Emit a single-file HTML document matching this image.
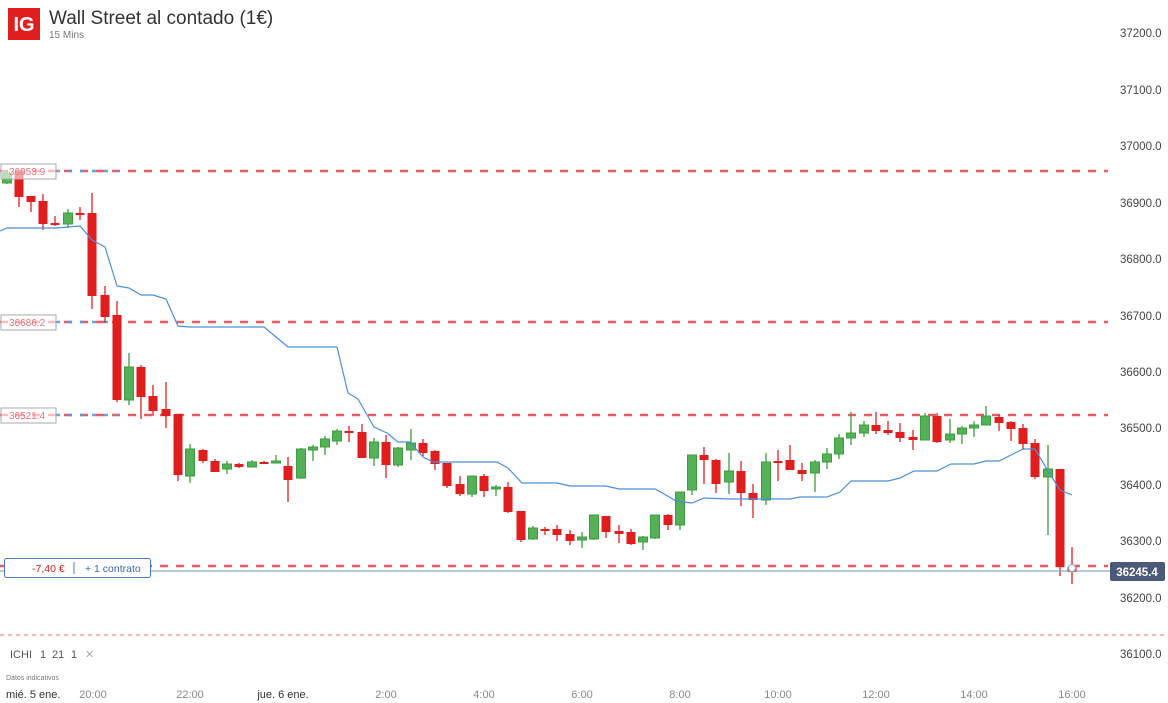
<!DOCTYPE html>
<html><head><meta charset="utf-8"><style>
body{margin:0;background:#fff;width:1168px;height:703px;overflow:hidden;font-family:"Liberation Sans",sans-serif;}
svg{position:absolute;left:0;top:0}
</style></head><body>
<svg id="s" width="1168" height="703" xmlns="http://www.w3.org/2000/svg" font-family="Liberation Sans, sans-serif">
<rect x="8" y="8" width="32" height="32" fill="#e01e1e"/>
<text x="24" y="31" font-size="20" fill="#fff" text-anchor="middle" font-weight="bold">IG</text>
<text x="49" y="24" font-size="19" fill="#333">Wall Street al contado (1€)</text>
<text x="49" y="38" font-size="10" fill="#777">15 Mins</text>
<g font-size="11.5" fill="#444">
<text x="1120" y="37">37200.0</text>
<text x="1120" y="94">37100.0</text>
<text x="1120" y="150">37000.0</text>
<text x="1120" y="207">36900.0</text>
<text x="1120" y="263">36800.0</text>
<text x="1120" y="320">36700.0</text>
<text x="1120" y="376">36600.0</text>
<text x="1120" y="432">36500.0</text>
<text x="1120" y="489">36400.0</text>
<text x="1120" y="545">36300.0</text>
<text x="1120" y="602">36200.0</text>
<text x="1120" y="658">36100.0</text>
</g>
<g id="lines"></g>
<g id="candles"></g>
<polyline fill="none" stroke="#4a90d9" stroke-width="1.2" points="0,231 7,228 56,228 80,226 92,240 105,247 117,286 129,288 141,295 153,295 166,299 178,326 190,327 264,327 276,337 288,347 337,347 348,393 358,399 374,427 387,433 398,442 410,442 423,457 433,462 497,462 508,468 522,483 557,483 570,486 606,486 619,489 655,489 666,495 676,501 692,503 704,498 729,499 790,499 800,497 827,497 840,492 851,481 888,481 900,478 914,471 937,471 951,464 974,464 986,461 999,461 1023,449 1035,449 1048,471 1060,490 1072,495"/>
<line x1="0" y1="571" x2="1110" y2="571" stroke="#8fa6c4" stroke-width="1.2"/>
<line x1="0" y1="635" x2="1168" y2="635" stroke="#e07b5a" stroke-width="1" stroke-dasharray="4,4"/>
<g font-size="10" fill="#e8707a">
<rect x="1" y="164" width="55" height="15" fill="#fff" fill-opacity="0.6" stroke="#aaa"/><text x="9" y="175">36953.9</text>
<rect x="1" y="315" width="55" height="15" fill="#fff" fill-opacity="0.6" stroke="#aaa"/><text x="9" y="326">36686.2</text>
<rect x="1" y="408" width="55" height="15" fill="#fff" fill-opacity="0.6" stroke="#aaa"/><text x="9" y="419">36521.4</text>
</g>
<rect x="4.5" y="558.5" width="146" height="19" rx="2" fill="#fff" stroke="#4a7cc0"/>
<text x="32" y="572" font-size="10.5" fill="#d02020">-7,40 €</text>
<line x1="74" y1="562" x2="74" y2="574" stroke="#4a7cc0"/>
<text x="85" y="572" font-size="10.5" fill="#3a6ab0">+ 1 contrato</text>
<rect x="1110" y="562" width="55" height="19" rx="2" fill="#4a5a78"/>
<text x="1137" y="576" font-size="11.5" fill="#fff" font-weight="bold" text-anchor="middle">36245.4</text>
<circle cx="1072" cy="568" r="3.5" fill="#fff" stroke="#8fa6c4"/>
<g font-size="11" fill="#555">
<text x="10" y="658">ICHI</text><text x="40" y="658">1</text><text x="52" y="658">21</text><text x="71" y="658">1</text><text x="85" y="658" fill="#aaa">✕</text>
</g>
<text x="6" y="680" font-size="7" fill="#777">Datos indicativos</text>
<g font-size="11" fill="#888">
<text x="6" y="698" fill="#333">mié. 5 ene.</text>
<text x="93" y="698" text-anchor="middle">20:00</text>
<text x="190" y="698" text-anchor="middle">22:00</text>
<text x="283" y="698" text-anchor="middle" fill="#333">jue. 6 ene.</text>
<text x="386" y="698" text-anchor="middle">2:00</text>
<text x="484" y="698" text-anchor="middle">4:00</text>
<text x="582" y="698" text-anchor="middle">6:00</text>
<text x="680" y="698" text-anchor="middle">8:00</text>
<text x="778" y="698" text-anchor="middle">10:00</text>
<text x="876" y="698" text-anchor="middle">12:00</text>
<text x="974" y="698" text-anchor="middle">14:00</text>
<text x="1072" y="698" text-anchor="middle">16:00</text>
</g>
</svg>
<script>
var NS="http://www.w3.org/2000/svg";
function el(p,t,a){var e=document.createElementNS(NS,t);for(var k in a)e.setAttribute(k,a[k]);p.appendChild(e);return e;}
var L=document.getElementById('lines');
[171,322,415,566].forEach(function(y){el(L,'line',{x1:0,y1:y,x2:1108,y2:y,stroke:'#e84a52','stroke-width':2.5,'stroke-dasharray':'8,8','stroke-opacity':0.9});});
[171,322,415].forEach(function(y){el(L,'line',{x1:56,y1:y,x2:118,y2:y,stroke:'#5a9ad8','stroke-width':2.5,'stroke-dasharray':'4,8','stroke-opacity':0.9});});
var C=[[7,183,173,170,184],[19,172,197,172,207],[31,196,202,196,212],[43,201,224,194,230],[55,223,225,216,226],[68,224,213,209,228],[80,213,213,207,220],[92,213,296,193,309],[105,295,317,286,323],[117,315,400,301,402],[129,400,367,353,405],[141,367,397,365,419],[153,396,411,385,416],[166,409,416,382,428],[178,414,475,414,481],[190,476,449,444,483],[203,450,461,449,463],[215,461,472,459,472],[227,469,464,461,474],[239,464,467,463,468],[252,467,462,460,467],[264,462,463,461,464],[276,463,461,455,463],[288,466,480,457,502],[301,478,449,448,479],[313,450,447,445,461],[325,447,439,436,455],[337,441,431,429,445],[349,431,433,426,442],[362,432,458,424,458],[374,458,442,438,466],[386,442,465,435,478],[398,465,448,447,467],[411,450,443,429,460],[423,443,453,439,456],[435,451,464,450,470],[447,463,486,463,488],[460,484,494,476,496],[472,494,476,476,497],[484,476,491,474,497],[496,489,487,485,496],[508,487,512,482,513],[521,511,540,511,542],[533,539,528,526,540],[545,529,529,527,535],[557,529,535,525,541],[570,534,541,530,545],[582,540,537,532,548],[594,539,515,515,540],[606,516,532,516,538],[619,531,534,525,543],[631,532,544,529,545],[643,542,537,536,550],[655,538,515,515,539],[668,515,525,514,530],[680,525,492,492,530],[692,490,455,455,495],[704,455,460,447,484],[716,460,484,459,493],[729,482,471,453,494],[741,471,493,461,506],[753,493,500,484,518],[766,500,462,453,505],[778,461,461,450,481],[790,460,470,445,470],[802,470,474,463,481],[815,473,462,460,492],[827,462,454,448,469],[839,454,438,434,459],[851,438,433,412,445],[864,433,425,421,437],[876,425,431,412,434],[888,430,433,421,435],[900,432,438,423,442],[913,437,440,430,450],[925,440,416,413,440],[937,416,442,413,443],[950,440,434,419,443],[962,434,428,426,444],[974,428,425,421,437],[986,425,416,406,425],[999,417,423,415,431],[1011,422,429,421,441],[1023,428,444,424,450],[1035,443,477,439,479],[1048,477,469,445,535],[1060,469,567,469,576],[1072,567,572,547,584]];
var G=document.getElementById('candles');
C.forEach(function(c){var up=c[2]<c[1];var col=up?'#3a9e3e':'#e01e1e';var fill=up?'#55b058':'#e01e1e';
el(G,'line',{x1:c[0],y1:c[3],x2:c[0],y2:c[4],stroke:col,'stroke-width':1.3});
var t=Math.min(c[1],c[2]),h=Math.max(Math.abs(c[1]-c[2]),2);
el(G,'rect',{x:c[0]-4.5,y:t,width:9,height:h,fill:fill,stroke:col,'stroke-width':up?1:0});});
</script>
</body></html>
